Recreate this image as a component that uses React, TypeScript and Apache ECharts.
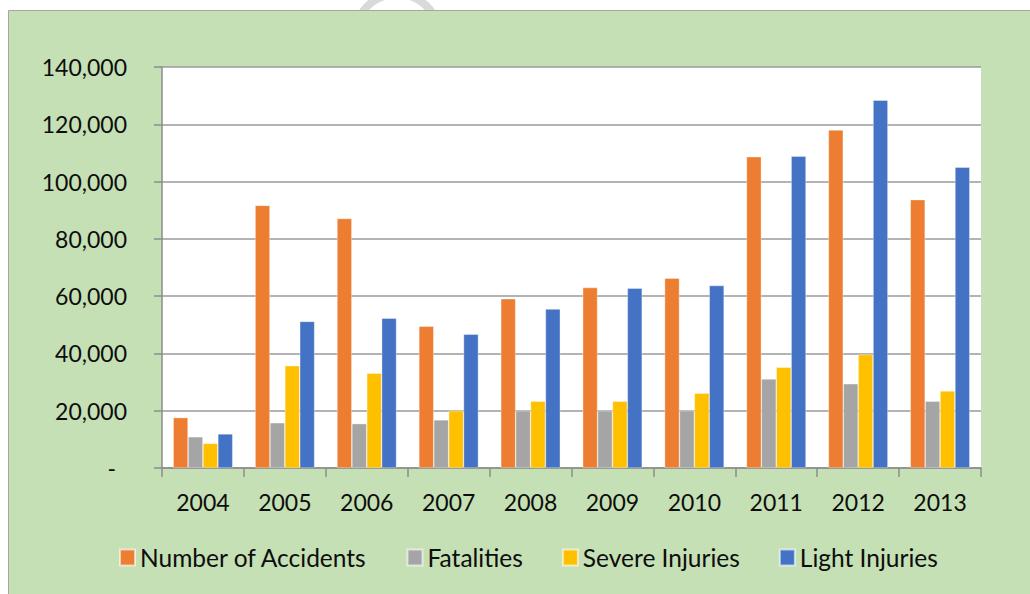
import React, { useEffect, useRef } from "react";
import * as echarts from "echarts";

const years = ["2004", "2005", "2006", "2007", "2008", "2009", "2010", "2011", "2012", "2013"];
const accidents = [17600, 91700, 87100, 49500, 59100, 63000, 66300, 108700, 118000, 93700];
const fatalities = [10900, 15800, 15500, 16800, 20000, 20000, 20000, 31100, 29400, 23300];
const severe = [8600, 35700, 33100, 20000, 23300, 23300, 26100, 35200, 39600, 26900];
const light = [11900, 51200, 52300, 46700, 55500, 62800, 63700, 108900, 128400, 105000];
const seriesNames = ["Number of Accidents", "Fatalities", "Severe Injuries", "Light Injuries"];
const colors = ["#ed7d31", "#a5a5a5", "#ffc000", "#4472c4"];

const FONT = "Lato";

export default function App() {
  const ref = useRef<HTMLDivElement>(null);
  useEffect(() => {
    if (!ref.current) return;
    const chart = echarts.init(ref.current, null, { renderer: "svg" });
    const data = [accidents, fatalities, severe, light];
    chart.setOption({
      animation: false,
      backgroundColor: "#ffffff",
      graphic: {
        elements: [
          {
            type: "arc",
            shape: { cx: 397, cy: 36, r: 42, startAngle: 0, endAngle: Math.PI * 2 },
            style: { stroke: "#d9d9d9", lineWidth: 8, fill: "none" },
            z: -101,
            silent: true,
          },
          {
            type: "rect",
            shape: { x: 8.5, y: 10.5, width: 1030, height: 600 },
            style: { fill: "#c5e0b4", stroke: "#a6a6a6", lineWidth: 1 },
            z: -100,
            silent: true,
          },
        ],
      },
      grid: {
        left: 162,
        right: 49,
        top: 67,
        bottom: 126,
        containLabel: false,
        show: true,
        backgroundColor: "#ffffff",
        borderWidth: 0,
      },
      legend: {
        data: seriesNames,
        left: 119,
        top: 545,
        padding: 0,
        icon: "rect",
        itemWidth: 15,
        itemHeight: 16,
        itemGap: 39,
        textStyle: { fontFamily: FONT, fontSize: 24.5, color: "#0d0d0d" },
      },
      xAxis: {
        type: "category",
        data: years,
        axisLine: { show: true, lineStyle: { color: "#8c8c8c", width: 1.5 } },
        axisTick: { show: true, length: 9, alignWithLabel: false, lineStyle: { color: "#8c8c8c", width: 1.5 } },
        axisLabel: { fontFamily: FONT, fontSize: 23, color: "#0d0d0d", margin: 22 },
        splitLine: { show: false },
      },
      yAxis: {
        type: "value",
        min: 0,
        max: 140000,
        interval: 20000,
        axisLine: { show: true, lineStyle: { color: "#8c8c8c", width: 1.5 } },
        axisTick: { show: true, length: 8, lineStyle: { color: "#8c8c8c", width: 1.5 } },
        splitLine: { show: true, lineStyle: { color: "#9a9a9a", width: 1.5 } },
        axisLabel: {
          fontFamily: FONT,
          fontSize: 23,
          color: "#0d0d0d",
          margin: 35,
          formatter: (v: number) => (v === 0 ? "{d|-}" : v.toLocaleString("en-US")),
          rich: { d: { fontFamily: FONT, fontSize: 23, color: "#0d0d0d", padding: [0, 11, 0, 0] } },
        },
      },
      series: seriesNames.map((name, i) => ({
        name,
        type: "bar",
        data: data[i],
        barGap: "0%",
        barCategoryGap: "27.3%",
        itemStyle: { color: colors[i], borderColor: "rgba(255,255,255,0.6)", borderWidth: 0.6 },
        z: 3,
      })),
    });
    return () => chart.dispose();
  }, []);
  return (
    <div
      ref={ref}
      style={{ position: "fixed", left: 0, top: 0, width: 1030, height: 594 }}
    />
  );
}
